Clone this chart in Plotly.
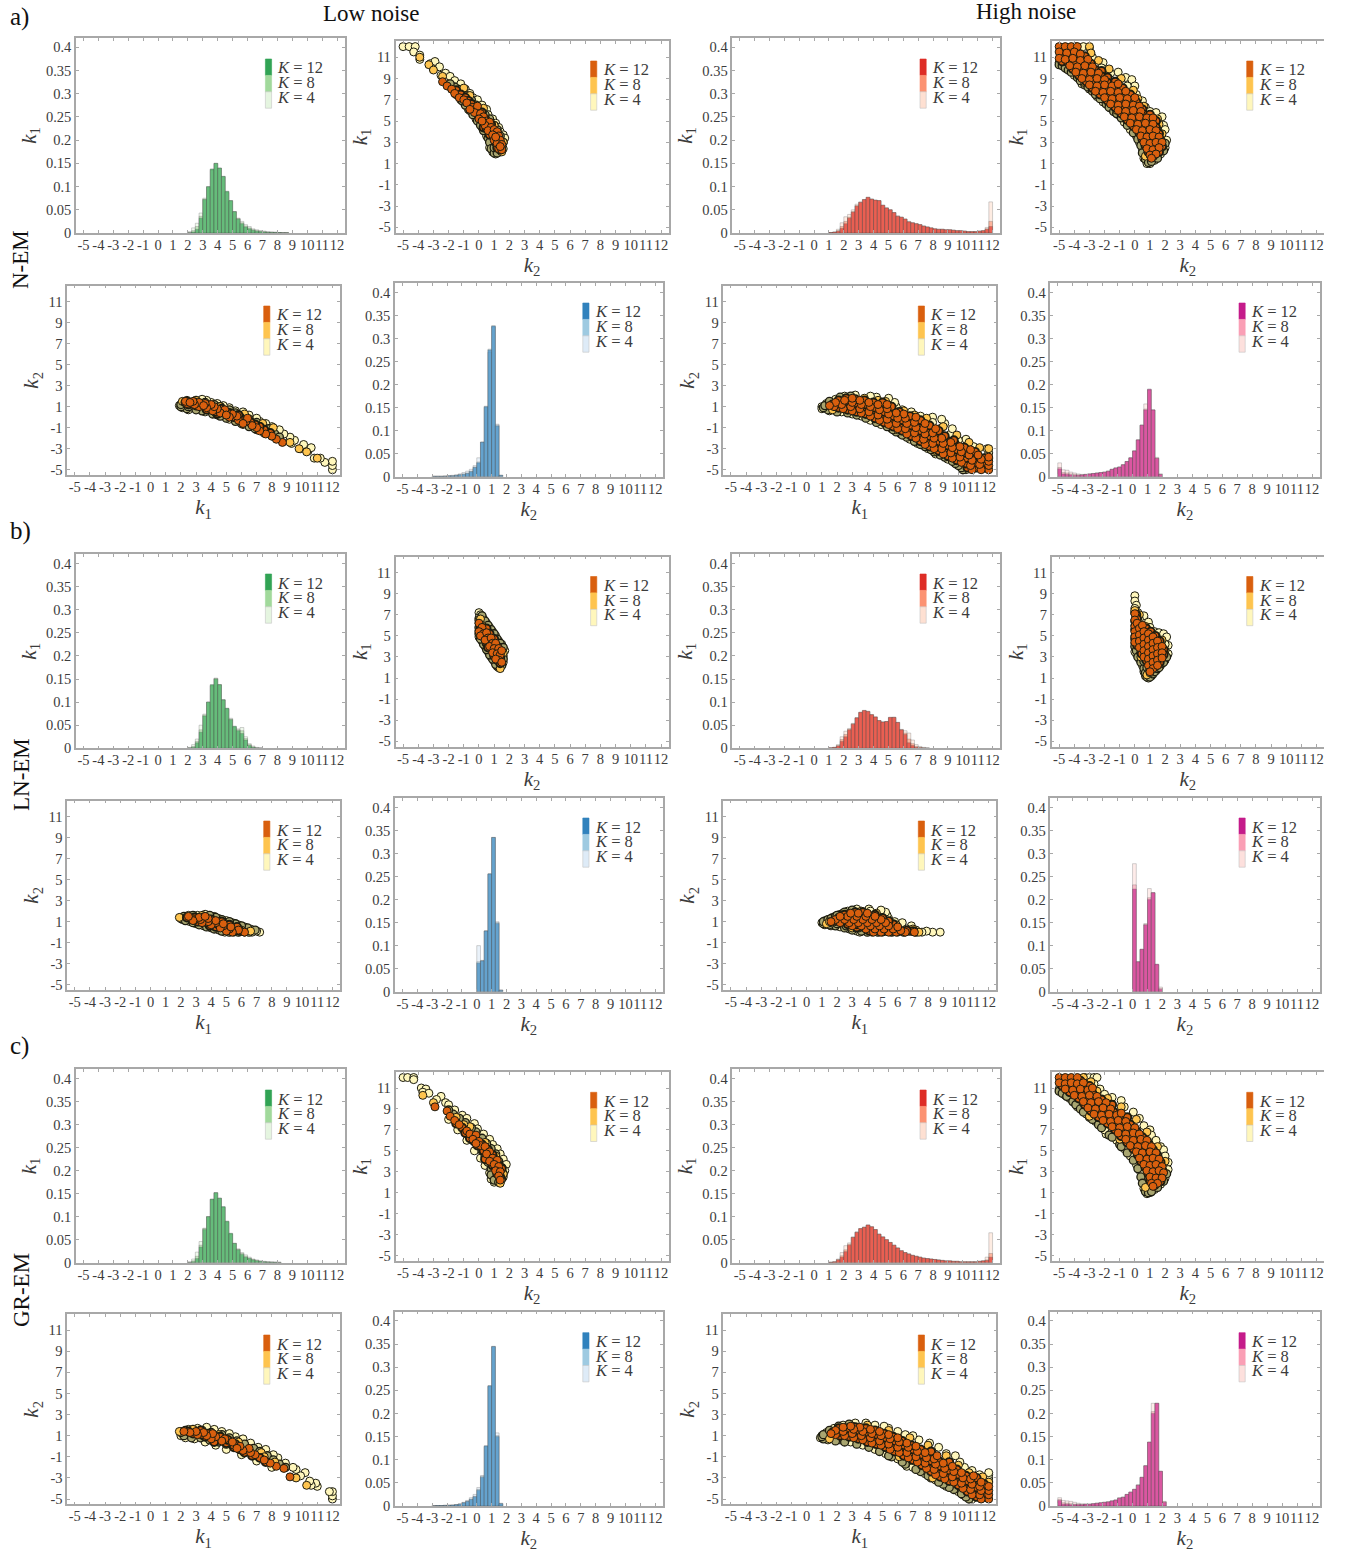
import plotly.graph_objects as go

W, H = 1352, 1552
FONT = "Liberation Serif"

X_TICKS = list(range(-5, 13))
HIST_Y_TICKS = [0, 0.05, 0.1, 0.15, 0.2, 0.25, 0.3, 0.35, 0.4]
HIST_Y_LABELS = ["0", "0.05", "0.1", "0.15", "0.2", "0.25", "0.3", "0.35", "0.4"]
SCATTER_Y_TICKS = [-5, -3, -1, 1, 3, 5, 7, 9, 11]
K_LABELS = ["K = 4", "K = 8", "K = 12"]
BIN = 0.25

# ---------- histogram values (first bin left edge, then bar heights) ----------
NL_K1_START = 2.0
NL_K1_K4 = [.003,.011,.021,.043,.075,.098,.135,.15,.139,.121,.087,.068,.046,.032,.025,.018,.014,.009,.007,.005,.004,.003,.002,.002,.001,.001,.001]
NL_K1_K8 = [.001,.005,.014,.036,.073,.1,.137,.15,.14,.122,.089,.07,.046,.031,.022,.015,.011,.007,.005,.004,.003,.002,.002,.001,.001,.001,.001]
NL_K1_K12 = [.0,.002,.008,.032,.072,.1,.138,.15,.14,.122,.09,.07,.046,.03,.02,.013,.009,.006,.004,.003,.002,.001,.001,.001,.001,.0,.0]

NL_K2_START = -3.0
NL_K2_K4 = [.001,.001,.001,.002,.002,.003,.004,.006,.009,.012,.016,.024,.041,.075,.15,.27,.325,.114,.003]
NL_K2_K8 = [.001,.001,.001,.001,.002,.002,.003,.005,.006,.008,.012,.021,.032,.075,.153,.277,.328,.112,.003]
NL_K2_K12 = [.001,.001,.001,.001,.002,.002,.003,.004,.005,.007,.011,.02,.03,.075,.152,.275,.327,.11,.003]

NH_K1_START = 1.0
NH_K1_K4 = [.001,.002,.008,.022,.035,.04,.05,.062,.067,.072,.076,.073,.07,.069,.059,.054,.05,.044,.037,.034,.03,.025,.022,.02,.018,.015,.013,.011,.009,.008,.008,.007,.007,.006,.005,.005,.004,.003,.003,.003,.004,.005,.012,.067]
NH_K1_K8 = [.001,.002,.005,.014,.025,.034,.046,.059,.066,.072,.077,.073,.071,.07,.06,.054,.05,.044,.036,.034,.03,.024,.022,.02,.018,.015,.013,.011,.009,.008,.008,.007,.007,.006,.005,.005,.004,.003,.003,.003,.004,.005,.009,.025]
NH_K1_K12 = [.001,.002,.004,.01,.02,.032,.045,.058,.066,.072,.077,.073,.071,.07,.06,.054,.05,.044,.036,.034,.03,.024,.022,.02,.018,.015,.013,.011,.009,.008,.008,.007,.007,.006,.005,.005,.004,.003,.003,.003,.004,.005,.008,.014]

NH_K2_START = -5.0
NH_K2_K4 = [.03,.015,.014,.01,.008,.006,.005,.005,.006,.007,.008,.009,.01,.012,.016,.019,.021,.026,.033,.041,.056,.08,.112,.158,.19,.145,.042,.006]
NH_K2_K8 = [.02,.009,.008,.006,.005,.004,.004,.005,.006,.007,.008,.009,.01,.012,.016,.019,.021,.026,.033,.041,.056,.08,.112,.147,.188,.145,.04,.005]
NH_K2_K12 = [.017,.006,.005,.004,.003,.003,.004,.005,.006,.007,.008,.009,.01,.012,.016,.019,.021,.026,.033,.041,.056,.08,.112,.145,.19,.145,.04,.005]

LL_K1_START = 2.0
LL_K1_K4 = [.002,.008,.02,.05,.074,.1,.135,.152,.137,.105,.085,.065,.045,.042,.045,.025,.01,.005,.002,.001]
LL_K1_K8 = [.001,.004,.015,.04,.072,.1,.137,.151,.138,.105,.086,.063,.047,.04,.038,.021,.008,.003,.001,.0]
LL_K1_K12 = [.0,.002,.012,.035,.07,.1,.138,.15,.138,.105,.087,.062,.048,.038,.032,.018,.006,.002,.0,.0]

LL_K2_START = 0.0
LL_K2_K4 = [.1,.068,.132,.255,.335,.152,.004]
LL_K2_K8 = [.065,.067,.132,.256,.335,.15,.003]
LL_K2_K12 = [.062,.067,.132,.256,.335,.148,.003]

LH_K1_START = 1.0
LH_K1_K4 = [.001,.002,.008,.025,.037,.043,.054,.066,.077,.081,.079,.072,.067,.06,.057,.058,.066,.067,.056,.041,.038,.033,.018,.008,.004,.002,.001]
LH_K1_K8 = [.001,.002,.006,.019,.03,.041,.053,.066,.078,.082,.08,.073,.068,.06,.057,.058,.067,.067,.056,.04,.033,.02,.01,.004,.002,.001,.0]
LH_K1_K12 = [.001,.002,.005,.015,.025,.04,.052,.066,.078,.082,.08,.073,.068,.06,.057,.058,.067,.067,.056,.04,.03,.012,.006,.002,.001,.0,.0]

LH_K2_START = 0.0
LH_K2_K4 = [.278,.065,.092,.148,.224,.215,.058,.01]
LH_K2_K8 = [.232,.065,.092,.146,.204,.215,.059,.007]
LH_K2_K12 = [.223,.065,.092,.145,.2,.215,.06,.005]

GL_K1_START = 2.0
GL_K1_K4 = [.002,.008,.023,.046,.075,.1,.137,.152,.14,.12,.088,.062,.042,.03,.022,.017,.012,.008,.006,.004,.003,.002,.002,.001,.001]
GL_K1_K8 = [.001,.004,.014,.038,.074,.1,.138,.152,.14,.121,.09,.063,.042,.029,.02,.014,.01,.007,.005,.003,.002,.002,.001,.001,.001]
GL_K1_K12 = [.0,.002,.009,.034,.072,.1,.138,.152,.14,.122,.09,.064,.042,.028,.018,.012,.009,.006,.004,.003,.002,.001,.001,.001,.0]

GL_K2_START = -3.0
GL_K2_K4 = [.001,.001,.001,.002,.002,.002,.003,.005,.008,.012,.018,.025,.04,.066,.128,.258,.344,.158,.006]
GL_K2_K8 = [.001,.001,.001,.001,.002,.002,.003,.004,.007,.01,.015,.021,.036,.064,.13,.26,.345,.152,.005]
GL_K2_K12 = [.0,.001,.001,.001,.001,.002,.003,.004,.007,.01,.014,.02,.034,.062,.13,.26,.345,.15,.005]

GH_K1_START = 1.0
GH_K1_K4 = [.001,.002,.008,.022,.037,.043,.056,.067,.074,.077,.081,.078,.072,.062,.056,.05,.044,.038,.032,.026,.022,.019,.016,.014,.012,.01,.009,.008,.007,.006,.005,.004,.004,.003,.003,.002,.002,.002,.002,.002,.003,.004,.012,.065]
GH_K1_K8 = [.001,.002,.007,.015,.028,.04,.055,.066,.074,.077,.082,.078,.072,.062,.056,.05,.044,.038,.032,.026,.022,.019,.016,.014,.012,.01,.009,.008,.007,.006,.005,.004,.004,.003,.003,.002,.002,.002,.002,.002,.003,.004,.006,.02]
GH_K1_K12 = [.001,.002,.006,.012,.024,.038,.055,.066,.074,.077,.082,.078,.072,.062,.056,.05,.044,.038,.032,.026,.022,.019,.016,.014,.012,.01,.009,.008,.007,.006,.005,.004,.004,.003,.003,.002,.002,.002,.002,.002,.003,.004,.005,.012]

GH_K2_START = -5.0
GH_K2_K4 = [.018,.012,.011,.01,.008,.006,.005,.004,.004,.005,.006,.007,.008,.009,.011,.013,.018,.019,.025,.03,.036,.046,.062,.087,.138,.222,.222,.075,.01]
GH_K2_K8 = [.014,.007,.006,.005,.004,.004,.003,.004,.004,.005,.006,.007,.008,.009,.011,.013,.017,.019,.025,.03,.036,.045,.062,.087,.138,.204,.222,.075,.009]
GH_K2_K12 = [.012,.004,.004,.003,.003,.003,.003,.004,.004,.005,.006,.007,.008,.009,.011,.013,.017,.019,.025,.03,.036,.045,.062,.087,.138,.2,.222,.075,.008]

# ---------- scatter clouds, (k2, k1) pairs ----------
NL_K4 = [(-5,12),(-4.6,12),(-4.2,12),(-4.3,11.5),(-3.9,11.2),(-3.9,10.8),(-3.2,10.4),(-2.9,10.6),(-3,9.9),(-2.6,10.1),(-2.5,9.3),(-2.2,9.5),(-1.9,9.2),(-1.6,8.8),(-1.2,8.5),(-.9,8),(-.6,7.6),(-.4,7.2),(-.1,7),(.2,6.5),(.5,6.1),(.6,5.6),(.9,5.2),(1.1,4.8),(1.3,4.4),(1.4,4),(1.6,3.7),(1.7,3.4),(1.5,2.9),(1.6,2.4),(1.4,2.1),(1.1,1.9),(.9,2.1),(.7,2.5),(.8,3.2),(.5,3.6),(.2,4.4),(-.2,5.2),(-.7,6.1),(-1.2,7),(-1.8,8),(1.2,2.4),(1,3),(1.3,3.4)]
NL_K4_DENSE = [(-.9,6.5),(-.6,6),(-.4,5.6),(-.1,5),(.1,4.6),(.3,4.1),(.6,3.4),(.7,3),(.8,2.4),(1,2),(1.2,2),(1.5,2.4),(1.6,3),(1.4,3.6),(1.2,4.2),(1,4.6),(.7,5.2),(.4,5.6),(.1,6),(-.2,6.5),(-.5,7),(-.8,7.4),(-1.1,7.8),(-1.4,8),(-1.6,8.2),(-1.9,8.5),(-1.5,7.5),(-1.1,6.9),(0,5.6),(.4,4.8),(.8,4),(1.1,3.4),(1.3,2.8),(1,2.5)]
NL_K8 = [(-3.9,11),(-3.3,10.3),(-3,9.8),(-2.4,9.2),(-1,8.1),(-.6,7.4),(.3,6.2),(1,4.6),(1.5,2.1),(1.6,3),(1.2,3.8),(.4,5),(-.4,6.6)]
NL_K12 = [(-2.4,8.7),(-2.1,8.3),(-1.8,8),(-1.6,7.6),(-1.3,7.2),(-1,7),(-.8,6.7),(-.4,6.3),(-.1,6.4),(-.3,5.8),(.1,5.7),(.3,5.4),(0,5.2),(.5,5),(.7,4.9),(.4,4.6),(.8,4.4),(.6,4.1),(1,4.2),(1.2,4),(.9,3.7),(1.3,3.6),(1,3.2),(1.4,3.2),(1.2,2.9),(1.5,2.8),(1.3,2.4),(1.5,2.3),(-.6,6.1),(.2,5),(1.1,3.5),(1.4,2.6)]
NL_K12_DENSE = [(-1.5,7.9),(-1.2,7.5),(-.9,7.2),(-.7,6.9),(-.5,6.6),(-.2,6),(0,5.9),(.2,5.8),(0,5.5),(.2,5.2),(.4,5.2),(.6,4.6),(.3,4.4),(.8,4.7),(.9,4),(.7,3.7),(1.1,3.9),(1.2,3.6),(1.1,3),(1.3,3),(1.4,2.9),(1.2,2.5),(1.4,2.3),(.5,4.3)]

NH_K4 = [(-3.9,12),(-3.4,12),(-3,11.9),(-3.5,11.1),(-2.8,11),(-2.1,10.5),(-2.2,10),(-1.6,9.5),(-1.1,9.6),(-.6,9.1),(-.2,8.9),(0,8.3),(.1,7.5),(.5,6.9),(.7,6.3),(1,5.9),(1.4,5.8),(1.8,5.4),(1.9,4.6),(2,4.2),(2.1,3.2),(2,2.5),(1.7,1.9),(1.3,1.3),(1,1),(.8,1),(.6,1.5),(.5,2.3),(.3,3),(.1,3.6),(-.3,4.2),(-.7,4.9),(-1.1,5.6),(-1.6,6.2),(-2.1,6.8),(-2.5,7.3),(-3,8),(-3.5,8.5),(-4,9.3),(-4.5,9.9),(-5,10.5),(-4.6,10.4),(-1,8.9),(-.5,8.3)]
NH_K4_DENSE = [(-5,10.3),(-4.8,10.2),(-4.6,10),(-4.4,9.8),(-4.2,9.6),(-3.8,9.1),(-3.6,8.8),(-3.3,8.4),(-3.1,8.2),(-2.8,7.8),(-2.6,7.5),(-2.3,7.1),(-1.9,6.6),(-1.7,6.3),(-1.4,5.9),(-1.2,5.7),(-.9,5.3),(-.5,4.6),(-.1,3.9),(.2,3.3),(.4,2.7),(.5,2),(.7,1.4),(.9,1.1),(1.1,1.2),(1.5,1.5),(1.9,2.2),(2,2.9)]
NH_K8 = [(-3,12),(-2.9,11.4),(-2.4,10.7),(-1.7,9.9),(-.9,9),(-.1,7.9),(.6,6.4),(1.6,4.7),(1.8,3.8),(.7,1.7),(-3.3,8.6),(-1.2,6),(1.5,5.2),(.2,7.1)]
NH_K12 = [(-5,12),(-4.6,12),(-4.2,12),(-3.8,12),(-5,11.5),(-4.5,11.4),(-4,11.5),(-3.6,11.3),(-5,10.9),(-4.6,10.8),(-4.1,10.9),(-3.6,10.7),(-3.1,10.8),(-4.3,10.2),(-3.8,10.1),(-3.3,10.2),(-2.8,10.1),(-3.9,9.6),(-3.4,9.5),(-2.9,9.6),(-2.4,9.5),(-3.5,9),(-3,8.9),(-2.5,9),(-2,8.9),(-3,8.4),(-2.5,8.3),(-2,8.4),(-1.5,8.3),(-1.1,8.5),(-2.6,7.8),(-2.1,7.7),(-1.6,7.8),(-1.1,7.7),(-.6,7.8),(-2,7.2),(-1.5,7.1),(-1,7.2),(-.5,7.1),(0,7.2),(-1.6,6.6),(-1.1,6.5),(-.6,6.6),(-.1,6.5),(.3,6.4),(-1.1,6),(-.6,5.9),(-.1,6),(.4,5.9),(-.7,5.4),(-.2,5.3),(.3,5.4),(.8,5.3),(1.2,5.3),(-.3,4.8),(.2,4.7),(.7,4.8),(1.2,4.7),(.1,4.2),(.5,4.1),(1,4.2),(1.4,4.1),(.4,3.6),(.8,3.5),(1.2,3.6),(1.6,3.5),(.6,3),(1,2.9),(1.4,3),(1.8,3),(.8,2.4),(1.2,2.3),(1.6,2.5),(1,1.8),(1.4,1.9),(1.1,1.5)]
NH_K12_DENSE = [(-4.8,11.7),(-4.3,11.7),(-3.9,11.7),(-4.8,11.2),(-4.3,11.1),(-3.8,11),(-3.3,11.1),(-4.8,10.6),(-4.4,10.5),(-3.9,10.5),(-3.4,10.5),(-2.9,10.4),(-4.1,9.9),(-3.6,9.8),(-3.1,9.9),(-2.6,9.8),(-2.2,9.7),(-3.7,9.3),(-3.2,9.2),(-2.7,9.3),(-2.2,9.2),(-1.8,9.1),(-3.2,8.7),(-2.8,8.6),(-2.3,8.7),(-1.8,8.6),(-1.3,8.7),(-2.8,8.1),(-2.3,8),(-1.8,8.1),(-1.3,8),(-.8,8.1),(-2.3,7.5),(-1.8,7.4),(-1.3,7.5),(-.8,7.4),(-.3,7.5),(-1.8,6.9),(-1.3,6.8),(-.8,6.9),(-.3,6.8),(.1,6.8),(-1.3,6.3),(-.8,6.2),(-.3,6.3),(.2,6.2),(.5,6.1),(-.9,5.7),(-.4,5.6),(.1,5.7),(.6,5.6),(1,5.6),(-.5,5.1),(0,5),(.5,5.1),(1,5),(1.4,5),(-.1,4.5),(.4,4.4),(.9,4.5),(1.4,4.4),(.3,3.9),(.7,3.8),(1.2,3.9),(1.6,3.8),(.5,3.3),(.9,3.2),(1.3,3.3),(1.7,3.2),(.7,2.7),(1.1,2.6),(1.5,2.7),(1.8,2.6),(.9,2.1),(1.3,2),(1.6,2.1),(1.2,1.7)]

LL_K4 = [(0,7.2),(.1,7),(0,6.7),(.3,6.6),(0,6.2),(.5,6.2),(.7,5.8),(.9,5.4),(1.1,5),(1.3,4.5),(1.5,4.2),(1.7,3.6),(1.6,3.1),(1.6,2.5),(1.4,2),(1.2,2.1),(1,2.6),(.8,3),(.6,3.5),(.4,4),(.2,4.5),(0,4.9),(0,5.5),(1.2,3.5),(.7,4.5),(.3,5.5)]
LL_K4_DENSE = [(.1,6.4),(.2,6.9),(.4,6.4),(.6,6),(.8,5.6),(1,5.2),(1.2,4.7),(1.4,4.3),(1.6,3.9),(1.6,2.8),(1.5,2.2),(1.3,2),(1.1,2.3),(.9,2.8),(.7,3.2),(.5,3.7),(.3,4.2),(.1,4.7),(0,5.2),(0,5.8),(0,6.5),(.2,5),(.5,4.4),(.8,3.8),(1,3.2),(1.2,2.7),(1.4,3)]
LL_K8 = [(1.4,1.9),(.1,6.6),(.2,6),(1.6,3.4),(1,4.5),(1.3,2.8),(.6,5)]
LL_K12 = [(0,6.2),(.2,5.8),(0,5.4),(.3,5.2),(.1,5),(.5,5.3),(.6,4.8),(.4,4.6),(.8,4.8),(.9,4.3),(.7,4),(1.1,4.3),(1,3.8),(.9,3.4),(1.3,3.8),(1.2,3.3),(1.4,3.2),(1.3,2.7),(1.1,2.8),(1.5,3.6),(1.5,2.5)]
LL_K12_DENSE = [(.1,5.9),(.1,5.5),(.3,5.6),(.5,5.7),(.2,5.3),(.4,5),(.7,5.2),(.5,4.3),(.8,4.4),(.6,3.9),(1,4.7),(.9,3.8),(1.1,3.5),(1.3,3.4),(1,3.1),(1.4,3.5),(1.2,2.9),(1.4,2.9),(1.4,2.4),(1.2,4)]

LH_K4 = [(0,8.8),(0,8.3),(.1,7.9),(0,7.6),(.2,7.2),(.6,6.9),(.9,6.3),(.3,6.6),(1,5.8),(1.3,5.4),(1.6,5.3),(1.9,5.2),(2.1,4.9),(2.2,4.1),(2.2,3.3),(2,2.7),(1.7,2.2),(1.4,1.7),(1.1,1.2),(.9,1),(.7,1.2),(.6,1.6),(.5,2.2),(.3,2.8),(.1,3.3),(0,3.5),(0,4.3),(0,5),(0,6),(2,4.2),(1.8,3.4),(1.5,4.6),(1.2,2),(.8,2.8)]
LH_K4_DENSE = [(0,7.2),(.1,6.8),(0,6.4),(0,5.6),(0,4.7),(0,4),(.1,3.6),(.2,3),(.4,2.5),(.6,1.9),(.7,1.5),(.8,1.1),(1,1.1),(1.2,1.4),(1.3,1.6),(1.5,1.9),(1.6,2),(1.8,2.4),(1.9,2.5),(2.1,3),(.4,3.4),(.6,2.6),(.8,2),(.9,1.5),(1.1,1.9)]
LH_K8 = [(0,7.4),(.3,7),(.1,6.5),(.8,1.3),(1,1.5),(1.8,4.6),(2,3.6),(1.5,2.3),(.4,3),(.7,5.9),(1.3,5)]
LH_K12 = [(0,7.1),(0,6.5),(0,5.9),(0,5.4),(0,4.9),(0,4.4),(.15,6.2),(.3,5.7),(.3,5.1),(.3,4.5),(.3,3.9),(.5,6),(.6,5.4),(.6,4.8),(.6,4.2),(.6,3.6),(.6,3),(.9,5.2),(.9,4.6),(.9,4),(.9,3.4),(.9,2.8),(.9,2.2),(1.2,4.9),(1.2,4.3),(1.2,3.7),(1.2,3.1),(1.2,2.5),(1.2,1.9),(1.5,4.5),(1.5,3.9),(1.5,3.3),(1.5,2.7),(1.5,2.2),(1.8,4),(1.8,3.4),(1.8,2.9),(1,1.6)]
LH_K12_DENSE = [(.1,7),(.15,6.6),(.1,5.7),(.15,5.2),(.15,4.7),(.15,4.1),(.45,5.6),(.45,5),(.45,4.4),(.45,3.8),(.45,3.3),(.75,5.7),(.75,5.1),(.75,4.5),(.75,3.9),(.75,3.3),(.75,2.7),(1.05,5.4),(1.05,4.8),(1.05,4.2),(1.05,3.6),(1.05,3),(1.05,2.4),(1.05,1.9),(1.35,5),(1.35,4.4),(1.35,3.8),(1.35,3.2),(1.35,2.6),(1.35,2.1),(1.65,4.5),(1.65,3.9),(1.65,3.4),(1.65,2.9),(1.65,2.5),(1.9,3.7),(1.9,3.2)]

GL_K4 = [(-5,12),(-4.7,12),(-4.3,12),(-4.3,11.8),(-3.8,11),(-3.5,10.9),(-3.7,10.6),(-3.3,10.5),(-2.5,10.2),(-2.8,9.9),(-2.2,9.6),(-2,9.4),(-1.6,8.9),(-1.1,8.4),(-.8,8.1),(-.3,7.6),(-.1,7.1),(.3,6.6),(.7,6.1),(.9,5.6),(1.2,5.2),(1.4,4.7),(1.6,4.2),(1.8,3.7),(1.7,3.1),(1.6,2.5),(1.4,2),(1,2),(.8,2.3),(.7,2.9),(.4,3.6),(.1,4.3),(-.3,5),(-.8,6),(-1.4,7),(-2,8),(1.2,3),(1,3.6),(.6,4.6),(0,5.6)]
GL_K4_DENSE = [(-1.3,7.9),(-1,7.5),(-.7,7),(-.5,6.5),(-.2,6),(0,5.5),(.2,5),(.4,4.5),(.6,3.9),(.8,3.3),(.8,2.7),(1,2.2),(1.3,2),(1.5,2.3),(1.6,2.8),(1.5,3.4),(1.3,4),(1.1,4.7),(.8,5.2),(.5,5.7),(.2,6.2),(-.2,6.8),(-.5,7.2),(-.9,7.7),(-1.3,8.1),(-1.7,8.5),(-2,8.9)]
GL_K8 = [(-3.7,10.3),(-3,9.6),(1.4,1.9),(-1.5,8.2),(-.6,7.3),(.4,5.8),(1.1,4.5),(1.6,2.8),(-1,7.5)]
GL_K12 = [(-2.9,9.2),(-2.1,8.8),(-1.9,8.3),(-1.6,7.9),(-1.3,7.5),(-.8,6.9),(-.6,6.6),(-.2,6.5),(-.4,6.1),(0,5.9),(.1,5.5),(.4,5.4),(.7,4.9),(.5,4.7),(.9,4.3),(.7,4),(1.2,4.1),(1,3.7),(1.3,3.5),(1.1,3.1),(1.4,3),(1.3,2.6),(1.4,2.2),(-.2,5.7)]
GL_K12_DENSE = [(-1.5,7.6),(-1.1,7.2),(-.9,6.7),(-.6,6.2),(-.3,5.9),(-.1,5.5),(.2,5.6),(.3,5),(.6,5.1),(.6,4.4),(.9,4.6),(1,4.2),(.9,3.6),(1.2,3.8),(1.1,3.4),(1.3,3.2),(1.2,2.8),(1.4,2.5),(1.5,3.3),(.4,4.2)]

GH_K4 = [(-3.3,12),(-3,12),(-2.7,12),(-2.5,12),(-2.7,11.4),(-2.3,10.9),(-2,10.4),(-1.5,10.1),(-.9,9.8),(-.7,9.2),(-.1,8.7),(.3,8.1),(.6,7.4),(1,7),(1.1,6.5),(1.4,6),(1.7,5.4),(1.9,5.1),(2,4.5),(2.2,3.9),(2.2,3.2),(2,2.4),(1.7,1.8),(1.3,1.3),(1,1),(.8,.9),(.6,1.4),(.6,2.2),(.4,2.9),(.1,3.7),(-.3,4.5),(-.7,5.2),(-1.2,6),(-1.9,6.6),(-2,7),(-2.6,7.8),(-3.2,8.5),(-3.8,9.2),(-4.3,10),(-5,10.9),(-4.6,10.3)]
GH_K4_DENSE = [(-5,10.7),(-4.8,10.5),(-4.5,10.2),(-4.1,9.7),(-3.9,9.4),(-3.6,9),(-3.4,8.7),(-3,8.2),(-2.8,8),(-2.4,7.5),(-2.2,7.2),(-1.7,6.5),(-1.5,6.3),(-1,5.6),(-.9,5.4),(-.5,4.8),(-.1,4.1),(.2,3.3),(.4,2.5),(.5,1.9),(.7,1.1),(.9,1),(1.1,1.1),(1.5,1.5),(1.9,2.1),(2.1,2.8)]
GH_K8 = [(-3.4,12),(-2.9,11.6),(-2.5,10.7),(-1.8,10),(-.9,9.2),(.1,8),(.8,6.8),(1.5,5.4),(2,4),(.7,1.5),(-3,8.3),(-1,6.1),(1.9,3)]
GH_K12 = [(-5,12),(-4.6,12),(-4.2,12),(-3.8,12),(-5,11.5),(-4.6,11.4),(-4.2,11.5),(-3.8,11.4),(-3.4,11.5),(-4.6,10.9),(-4.1,10.8),(-3.6,10.9),(-3.1,10.8),(-2.8,11),(-4,10.3),(-3.5,10.2),(-3,10.3),(-2.5,10.2),(-3.4,9.7),(-2.9,9.6),(-2.4,9.7),(-1.9,9.6),(-3.1,9.1),(-2.6,9),(-2.1,9.1),(-1.6,9),(-2.7,8.5),(-2.2,8.4),(-1.7,8.5),(-1.2,8.4),(-.9,8.6),(-2.1,7.9),(-1.6,7.8),(-1.1,7.9),(-.6,7.8),(-1.5,7.3),(-1,7.2),(-.5,7.3),(0,7.2),(-1.1,6.7),(-.6,6.6),(-.1,6.7),(.3,6.6),(-.6,6.1),(-.1,6),(.4,6.1),(.8,6),(-.3,5.5),(.2,5.4),(.7,5.5),(1.1,5.4),(.1,4.9),(.5,4.8),(1,4.9),(1.4,4.8),(.3,4.3),(.8,4.2),(1.2,4.3),(1.6,4.2),(.6,3.7),(1,3.6),(1.4,3.7),(1.8,3.5),(.8,3.1),(1.2,3),(1.6,3.1),(1.9,2.9),(1,2.5),(1.4,2.4),(1.8,2.4),(1.1,1.9),(1.5,1.9),(1.2,1.6)]
GH_K12_DENSE = [(-4.8,11.8),(-4.4,11.7),(-4,11.8),(-3.6,11.7),(-4.8,11.2),(-4.4,11.1),(-3.9,11.2),(-3.4,11.1),(-3,11.2),(-4.3,10.6),(-3.8,10.5),(-3.3,10.6),(-2.8,10.5),(-3.7,10),(-3.2,9.9),(-2.7,10),(-2.2,9.9),(-3.3,9.4),(-2.8,9.3),(-2.3,9.4),(-1.8,9.3),(-1.5,9.4),(-2.9,8.8),(-2.4,8.7),(-1.9,8.8),(-1.4,8.7),(-2.4,8.2),(-1.9,8.1),(-1.4,8.2),(-.9,8.1),(-.5,8.2),(-1.8,7.6),(-1.3,7.5),(-.8,7.6),(-.3,7.5),(-1.3,7),(-.8,6.9),(-.3,7),(.1,6.9),(-.9,6.4),(-.4,6.3),(.1,6.4),(.5,6.3),(-.5,5.8),(0,5.7),(.5,5.8),(.9,5.7),(-.1,5.2),(.3,5.1),(.8,5.2),(1.2,5.1),(.2,4.6),(.7,4.5),(1.1,4.6),(1.5,4.5),(.4,4),(.9,3.9),(1.3,4),(1.7,3.9),(.7,3.4),(1.1,3.3),(1.5,3.4),(1.8,3.2),(.9,2.8),(1.3,2.7),(1.7,2.7),(1,2.2),(1.3,2.1),(1.7,2.1),(1.3,1.7)]

# ---------- palettes (K=4, K=8, K=12) ----------
GREENS = ["#e5f5e0", "#a1d99b", "#31a354"]
REDS = ["#fee0d2", "#fc9272", "#de2d26"]
BLUES = ["#deebf7", "#9ecae1", "#3182bd"]
PINKS = ["#fde0dd", "#fa9fb5", "#c51b8a"]
ORANGES = ["#fff7bc", "#fec44f", "#d95f0e"]
RIM_OLIVE = "#a9a670"

# ---------- layout geometry in pixels ----------
COL_X = {
    (1, 1): (76, 344.5), (1, 2): (395.5, 668.7), (1, 3): (732.3, 1000), (1, 4): (1051.6, 1324),
    (2, 1): (67.2, 340), (2, 2): (395, 662.6), (2, 3): (723.3, 996.3), (2, 4): (1050.3, 1319.5),
}
ROW_Y = {
    ("a", 1, "h"): (38, 233), ("a", 1, "s"): (41.3, 232.7), ("a", 2, "s"): (285.7, 475), ("a", 2, "h"): (283.3, 476.7),
    ("b", 1, "h"): (554.3, 748.3), ("b", 1, "s"): (556.7, 746.7), ("b", 2, "s"): (800.7, 990), ("b", 2, "h"): (798.3, 991.7),
    ("c", 1, "h"): (1069.3, 1262.7), ("c", 1, "s"): (1072.3, 1260.7), ("c", 2, "s"): (1314.3, 1504.3), ("c", 2, "h"): (1311.7, 1506),
}
LEG_X = {
    (1, 1): 265.4, (1, 2): 590.6, (1, 3): 920, (1, 4): 1246.7,
    (2, 1): 263.7, (2, 2): 582.8, (2, 3): 918.3, (2, 4): 1239,
}
LEG_Y = {
    ("a", 1, "h"): 59, ("a", 1, "s"): 61, ("a", 2, "s"): 306, ("a", 2, "h"): 303,
    ("b", 1, "h"): 574, ("b", 1, "s"): 576.5, ("b", 2, "s"): 821, ("b", 2, "h"): 818,
    ("c", 1, "h"): 1090, ("c", 1, "s"): 1092.3, ("c", 2, "s"): 1335, ("c", 2, "h"): 1332.7,
}

def px_x(v):
    return v / W

def px_y(v):
    return 1 - v / H

K1 = "<i>k</i><sub>1</sub>"
K2 = "<i>k</i><sub>2</sub>"

CL_NL = (NL_K4, NL_K4_DENSE, NL_K8, NL_K12_DENSE, NL_K12)
CL_NH = (NH_K4, NH_K4_DENSE, NH_K8, NH_K12_DENSE, NH_K12)
CL_LL = (LL_K4, LL_K4_DENSE, LL_K8, LL_K12_DENSE, LL_K12)
CL_LH = (LH_K4, LH_K4_DENSE, LH_K8, LH_K12_DENSE, LH_K12)
CL_GL = (GL_K4, GL_K4_DENSE, GL_K8, GL_K12_DENSE, GL_K12)
CL_GH = (GH_K4, GH_K4_DENSE, GH_K8, GH_K12_DENSE, GH_K12)

PANELS = [
    ("a", 1, 1, "h", (NL_K1_START, NL_K1_K4, NL_K1_K8, NL_K1_K12), GREENS, None, K1),
    ("a", 1, 2, "s", (*CL_NL, False), ORANGES, K2, K1),
    ("a", 1, 3, "h", (NH_K1_START, NH_K1_K4, NH_K1_K8, NH_K1_K12), REDS, None, K1),
    ("a", 1, 4, "s", (*CL_NH, False), ORANGES, K2, K1),
    ("a", 2, 1, "s", (*CL_NL, True), ORANGES, K1, K2),
    ("a", 2, 2, "h", (NL_K2_START, NL_K2_K4, NL_K2_K8, NL_K2_K12), BLUES, K2, None),
    ("a", 2, 3, "s", (*CL_NH, True), ORANGES, K1, K2),
    ("a", 2, 4, "h", (NH_K2_START, NH_K2_K4, NH_K2_K8, NH_K2_K12), PINKS, K2, None),
    ("b", 1, 1, "h", (LL_K1_START, LL_K1_K4, LL_K1_K8, LL_K1_K12), GREENS, None, K1),
    ("b", 1, 2, "s", (*CL_LL, False), ORANGES, K2, K1),
    ("b", 1, 3, "h", (LH_K1_START, LH_K1_K4, LH_K1_K8, LH_K1_K12), REDS, None, K1),
    ("b", 1, 4, "s", (*CL_LH, False), ORANGES, K2, K1),
    ("b", 2, 1, "s", (*CL_LL, True), ORANGES, K1, K2),
    ("b", 2, 2, "h", (LL_K2_START, LL_K2_K4, LL_K2_K8, LL_K2_K12), BLUES, K2, None),
    ("b", 2, 3, "s", (*CL_LH, True), ORANGES, K1, K2),
    ("b", 2, 4, "h", (LH_K2_START, LH_K2_K4, LH_K2_K8, LH_K2_K12), PINKS, K2, None),
    ("c", 1, 1, "h", (GL_K1_START, GL_K1_K4, GL_K1_K8, GL_K1_K12), GREENS, None, K1),
    ("c", 1, 2, "s", (*CL_GL, False), ORANGES, K2, K1),
    ("c", 1, 3, "h", (GH_K1_START, GH_K1_K4, GH_K1_K8, GH_K1_K12), REDS, None, K1),
    ("c", 1, 4, "s", (*CL_GH, False), ORANGES, K2, K1),
    ("c", 2, 1, "s", (*CL_GL, True), ORANGES, K1, K2),
    ("c", 2, 2, "h", (GL_K2_START, GL_K2_K4, GL_K2_K8, GL_K2_K12), BLUES, K2, None),
    ("c", 2, 3, "s", (*CL_GH, True), ORANGES, K1, K2),
    ("c", 2, 4, "h", (GH_K2_START, GH_K2_K4, GH_K2_K8, GH_K2_K12), PINKS, K2, None),
]

AXIS_GREY = "#a8a8a8"
TEXT_GREY = "#3c3c3c"
EDGE = "#1c1c10"
fig = go.Figure()
layout = dict(
    template="none",
    width=W, height=H, margin=dict(l=0, r=0, t=0, b=0, pad=0), showlegend=False,
    paper_bgcolor="white", plot_bgcolor="white", barmode="overlay",
    font=dict(family=FONT, color=TEXT_GREY),
)
shapes, annotations = [], []

def scatter_trace(pts, fills, widths, name, xn, yn, swap):
    a = [p[0] for p in pts]
    b = [p[1] for p in pts]
    return go.Scatter(
        x=b if swap else a, y=a if swap else b, mode="markers", name=name,
        xaxis=xn, yaxis=yn, cliponaxis=False,
        marker=dict(size=8, color=fills, line=dict(color=EDGE, width=widths)),
    )

for i, (block, row, col, kind, payload, colors, xt, yt) in enumerate(PANELS, start=1):
    xn = f"x{i}"
    yn = f"y{i}"
    left, right = COL_X[(row, col)]
    top, bottom = ROW_Y[(block, row, kind)]
    if kind == "h":
        start, *series = payload
        for name, vals, color in zip(K_LABELS, series, colors):
            fig.add_trace(go.Bar(
                x=[start + BIN * (j + 0.5) for j in range(len(vals))], y=vals, width=BIN,
                name=name, xaxis=xn, yaxis=yn, opacity=0.62,
                marker=dict(color=color, line=dict(color="rgba(50,50,50,0.6)", width=0.6)),
            ))
    else:
        k4, k4_d, k8, k12_d, k12, swap = payload
        fig.add_trace(scatter_trace(
            k4 + k4_d, [colors[0]] * len(k4) + [RIM_OLIVE] * len(k4_d),
            [1] * len(k4) + [1.3] * len(k4_d), K_LABELS[0], xn, yn, swap))
        fig.add_trace(scatter_trace(k8, [colors[1]] * len(k8), [1] * len(k8), K_LABELS[1], xn, yn, swap))
        fig.add_trace(scatter_trace(
            k12_d + k12, [colors[2]] * (len(k12_d) + len(k12)),
            [1.9] * len(k12_d) + [1] * len(k12), K_LABELS[2], xn, yn, swap))
    no_right = row == 1 and col == 4
    xa = dict(
        domain=[px_x(left), px_x(right)], anchor=yn, range=[-5.5, 12.5], automargin=False,
        tickmode="array", tickvals=X_TICKS, ticktext=[str(v) for v in X_TICKS], tickangle=0,
        ticks="inside", ticklen=3, tickcolor=AXIS_GREY, tickwidth=1,
        showline=True, linecolor=AXIS_GREY, linewidth=1.5, mirror="ticks",
        showgrid=False, zeroline=False, ticklabelstandoff=-2,
        tickfont=dict(family=FONT, size=14.5, color=TEXT_GREY),
    )
    ya = dict(
        domain=[px_y(bottom), px_y(top)], anchor=xn, automargin=False,
        ticks="inside", ticklen=3, tickcolor=AXIS_GREY, tickwidth=1,
        showline=True, linecolor=AXIS_GREY, linewidth=1.5,
        mirror=False if no_right else "ticks",
        showgrid=False, zeroline=False, ticklabelstandoff=0,
        tickfont=dict(family=FONT, size=14.5, color=TEXT_GREY),
    )
    if kind == "h":
        ya.update(range=[0, 0.42], tickmode="array", tickvals=HIST_Y_TICKS, ticktext=HIST_Y_LABELS)
    else:
        ya.update(range=[-5.5, 12.5], tickmode="array", tickvals=SCATTER_Y_TICKS,
                  ticktext=[str(v) for v in SCATTER_Y_TICKS])
    if xt:
        xa["title"] = dict(text=xt, standoff=4, font=dict(family=FONT, size=21, color=TEXT_GREY))
    if yt:
        ya["title"] = dict(text=yt, standoff=4, font=dict(family=FONT, size=21, color=TEXT_GREY))
    layout[f"xaxis{i}"] = xa
    layout[f"yaxis{i}"] = ya

    lx = LEG_X[(row, col)]
    ly = LEG_Y[(block, row, kind)]
    seg = 16.4
    for s, (lab, c) in enumerate(zip(K_LABELS[::-1], colors[::-1])):
        shapes.append(dict(
            type="rect", xref="paper", yref="paper",
            x0=px_x(lx), x1=px_x(lx + 6.2), y0=px_y(ly + s * seg), y1=px_y(ly + (s + 1) * seg),
            fillcolor=c, line=dict(width=0.6, color="#c4c4c4" if s == 2 else c),
        ))
        k, rest = lab.split(" ", 1)
        annotations.append(dict(
            text=f"<i>{k}</i> {rest}", xref="paper", yref="paper",
            x=px_x(lx + 10), y=px_y(ly + 9 + s * 14.6), xanchor="left", yanchor="middle",
            showarrow=False, font=dict(family=FONT, size=16.5, color=TEXT_GREY),
        ))

def text(t, x, y, size, angle=0, anchor="center"):
    annotations.append(dict(
        text=t, xref="paper", yref="paper", x=px_x(x), y=px_y(y), xanchor=anchor, yanchor="middle",
        showarrow=False, textangle=angle, font=dict(family=FONT, size=size, color="#111111"),
    ))

text("a)", 8, 17, 25, anchor="left")
text("b)", 8, 531, 25, anchor="left")
text("c)", 8, 1046, 25, anchor="left")
text("Low noise", 371, 14, 23)
text("High noise", 1026, 12, 23)
text("N-EM", 21, 260, 23, angle=-90)
text("LN-EM", 21, 775, 23, angle=-90)
text("GR-EM", 21, 1290, 23, angle=-90)

layout["shapes"] = shapes
layout["annotations"] = annotations
fig.update_layout(**layout)
fig.write_html("out.html", config={"displayModeBar": False},
               post_script="document.body.style.margin='0';")
